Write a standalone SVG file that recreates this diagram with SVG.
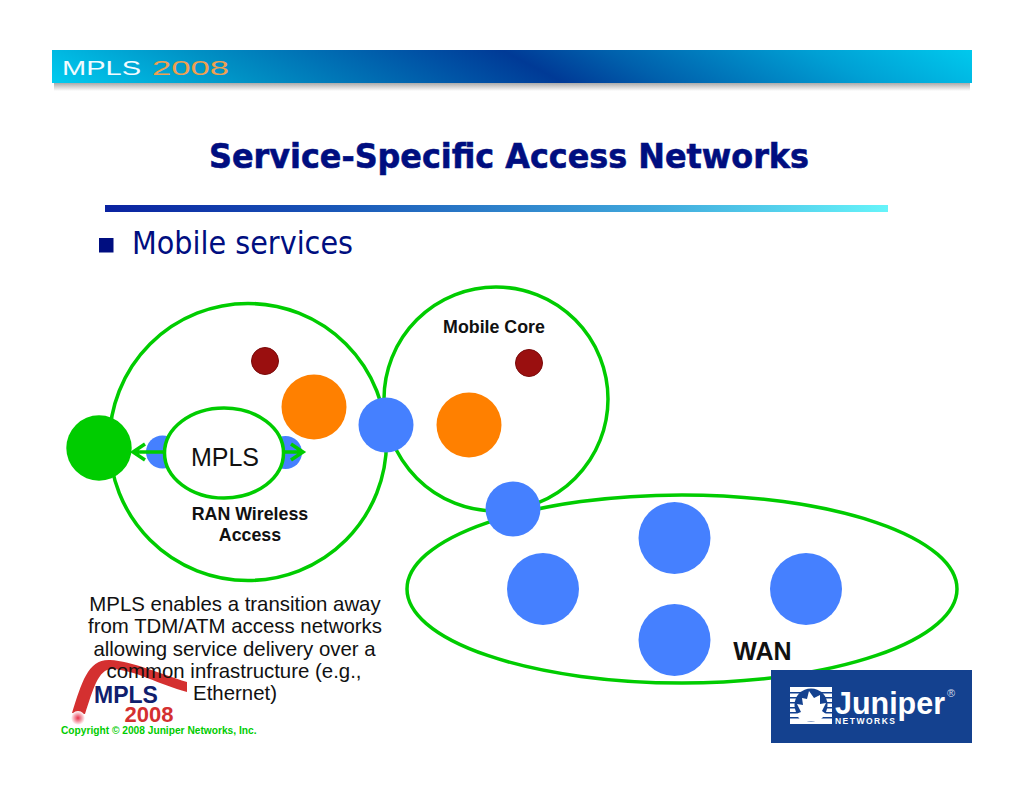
<svg xmlns="http://www.w3.org/2000/svg" width="1024" height="791" viewBox="0 0 1024 791">
<defs>
<linearGradient id="band" gradientUnits="userSpaceOnUse" x1="419" y1="279" x2="645" y2="-147"><stop offset="0" stop-color="#00ccf0"/><stop offset="0.2" stop-color="#0090c4"/><stop offset="0.42" stop-color="#0050a4"/><stop offset="0.5" stop-color="#003a96"/><stop offset="0.6" stop-color="#0060ac"/><stop offset="0.8" stop-color="#00a0d4"/><stop offset="1" stop-color="#00d4f4"/></linearGradient>
<linearGradient id="rule" x1="0" x2="1" y1="0" y2="0"><stop offset="0" stop-color="#0a22a0"/><stop offset="0.3" stop-color="#1a58b8"/><stop offset="0.7" stop-color="#40a8dc"/><stop offset="1" stop-color="#66f4fa"/></linearGradient>
<linearGradient id="shadow" x1="0" x2="0" y1="0" y2="1"><stop offset="0" stop-color="#aaa"/><stop offset="1" stop-color="#fff"/></linearGradient>
<radialGradient id="dot"><stop offset="0" stop-color="#e8304a"/><stop offset="1" stop-color="#ffffff"/></radialGradient>
<style>
.ring{fill:none;stroke:#00cc00;stroke-width:3.5}
.blue{fill:#4580ff}
.orange{fill:#ff8000}
.red{fill:#9a0f0f;stroke:#7a0a0a;stroke-width:1}
.ar{font-family:"Liberation Sans",Arial,sans-serif}
.ve{font-family:"DejaVu Sans",Verdana,sans-serif}
.lbl{font-weight:bold;font-size:17.8px;fill:#111;text-anchor:middle}
.body{font-size:20.4px;fill:#111;text-anchor:middle}
.bar{fill:none;stroke:#00cc00;stroke-width:3.5}
.stripe{fill:#14418f}
</style>
</defs>
<rect width="1024" height="791" fill="#fff"/>
<g id="header">
<rect x="54" y="83" width="916" height="8" fill="url(#shadow)"/>
<rect x="52" y="50" width="920" height="33" fill="url(#band)"/>
<text x="62" y="75" class="ar" font-size="21" textLength="79" lengthAdjust="spacingAndGlyphs" fill="#f2fbff">MPLS</text>
<text x="152" y="75" class="ar" font-size="21" textLength="77" lengthAdjust="spacingAndGlyphs" fill="#f0a050">2008</text>
</g>
<text id="title" x="509" y="168" class="ve" font-size="33.5" font-weight="bold" fill="#000e80" stroke="#000e80" stroke-width="0.6" text-anchor="middle" textLength="600" lengthAdjust="spacingAndGlyphs">Service-Specific Access Networks</text>
<rect id="rule-line" x="105" y="205" width="783" height="7" fill="url(#rule)"/>
<g id="bullet">
<rect x="99" y="238" width="14.500" height="14.500" fill="#000e80"/>
<text x="132" y="254" class="ve" font-size="32" fill="#000e80" textLength="221" lengthAdjust="spacingAndGlyphs">Mobile services</text>
</g>
<g id="ran-node">
<circle cx="248" cy="442" r="138.500" class="ring"/>
<text x="250" y="520" class="ar lbl">RAN Wireless</text>
<text x="250" y="541" class="ar lbl">Access</text>
</g>
<g id="core-node">
<circle cx="496" cy="399" r="112" class="ring"/>
<text x="494" y="333" class="ar lbl">Mobile Core</text>
</g>
<g id="wan-node">
<ellipse cx="682" cy="589" rx="275" ry="94" class="ring"/>
<text x="762.500" y="660" class="ar" font-size="25" font-weight="bold" fill="#111" text-anchor="middle">WAN</text>
</g>
<g id="red-1"><circle cx="265" cy="361" r="13.500" class="red"/></g>
<g id="red-2"><circle cx="529" cy="363" r="13.500" class="red"/></g>
<g id="orange-1"><circle cx="314" cy="407" r="32.500" class="orange"/></g>
<g id="orange-2"><circle cx="469" cy="425" r="32.500" class="orange"/></g>
<g id="blue-1"><circle cx="386" cy="425" r="27.500" class="blue"/></g>
<g id="blue-2"><circle cx="513" cy="509" r="27.500" class="blue"/></g>
<g id="blue-3"><circle cx="674.500" cy="538" r="36" class="blue"/></g>
<g id="blue-4"><circle cx="543" cy="589" r="36" class="blue"/></g>
<g id="blue-5"><circle cx="806" cy="589" r="36" class="blue"/></g>
<g id="blue-6"><circle cx="674.500" cy="640" r="36" class="blue"/></g>
<g id="blue-7"><circle cx="162.500" cy="452" r="16.500" class="blue"/></g>
<g id="blue-8"><circle cx="285.500" cy="452.500" r="16.500" class="blue"/></g>
<g id="green-node"><circle cx="99" cy="448" r="32.700" fill="#00cc00"/></g>
<g id="connectors">
<path class="bar" d="M165 452H134M145 444L133 452L145 460"/>
<path class="bar" d="M284 452H303M291 444L303 452L291 460"/>
</g>
<g id="mpls-node">
<ellipse cx="224" cy="453" rx="59.500" ry="45" fill="#fff" stroke="#00cc00" stroke-width="3.500"/>
<text x="225" y="466" class="ar" font-size="25" fill="#111" text-anchor="middle">MPLS</text>
</g>
<g id="logo-mpls">
<path d="M72 713C82 682 88 659 110 660C132 661 160 674 187 682L187 692C160 685 135 670 112 669C98 669 93 690 85 714Z" fill="#d43030"/>
<circle cx="78" cy="718" r="7" fill="url(#dot)"/>
<text x="126" y="703" class="ar" font-size="23" font-weight="bold" fill="#10206e" text-anchor="middle">MPLS</text>
<text x="149" y="722" class="ar" font-size="22" font-weight="bold" fill="#d43030" text-anchor="middle">2008</text>
</g>
<g id="description">
<text x="235" y="611" class="ar body">MPLS enables a transition away</text>
<text x="235" y="633" class="ar body">from TDM/ATM access networks</text>
<text x="234.500" y="656" class="ar body">allowing service delivery over a</text>
<text x="234" y="678" class="ar body">common infrastructure (e.g.,</text>
<text x="235" y="700" class="ar body">Ethernet)</text>
</g>
<text id="copyright" x="61" y="734" class="ar" font-size="10.200" font-weight="bold" fill="#00cc00">Copyright © 2008 Juniper Networks, Inc.</text>
<g id="logo-juniper">
<rect x="771" y="670" width="201" height="73" fill="#14418f"/>
<rect x="790" y="687" width="42" height="37" fill="#fff"/>
<path class="stripe" d="M790 692h42v1.500h-42zM790 697h42v1.500h-42zM790 702h42v1.500h-42zM790 707h42v1.500h-42zM790 712h42v1.500h-42zM790 717h42v1.500h-42z"/>
<circle cx="811" cy="705" r="16.500" fill="#14418f"/>
<path d="M809 691L814 698L820 695L820 704L826 703L822 711L826 714L819 721H801L796 714L801 712L797 704L803 705L802 698L807 699Z" fill="#fff"/>
<text x="835" y="714" class="ar" font-size="32" font-weight="bold" fill="#fff" textLength="110" lengthAdjust="spacingAndGlyphs">Juniper</text>
<text x="835" y="724" class="ar" font-size="8.500" font-weight="bold" fill="#fff" textLength="60" lengthAdjust="spacing">NETWORKS</text>
<text x="947" y="697" class="ar" font-size="11" fill="#d0d8e8">®</text>
</g>
</svg>
